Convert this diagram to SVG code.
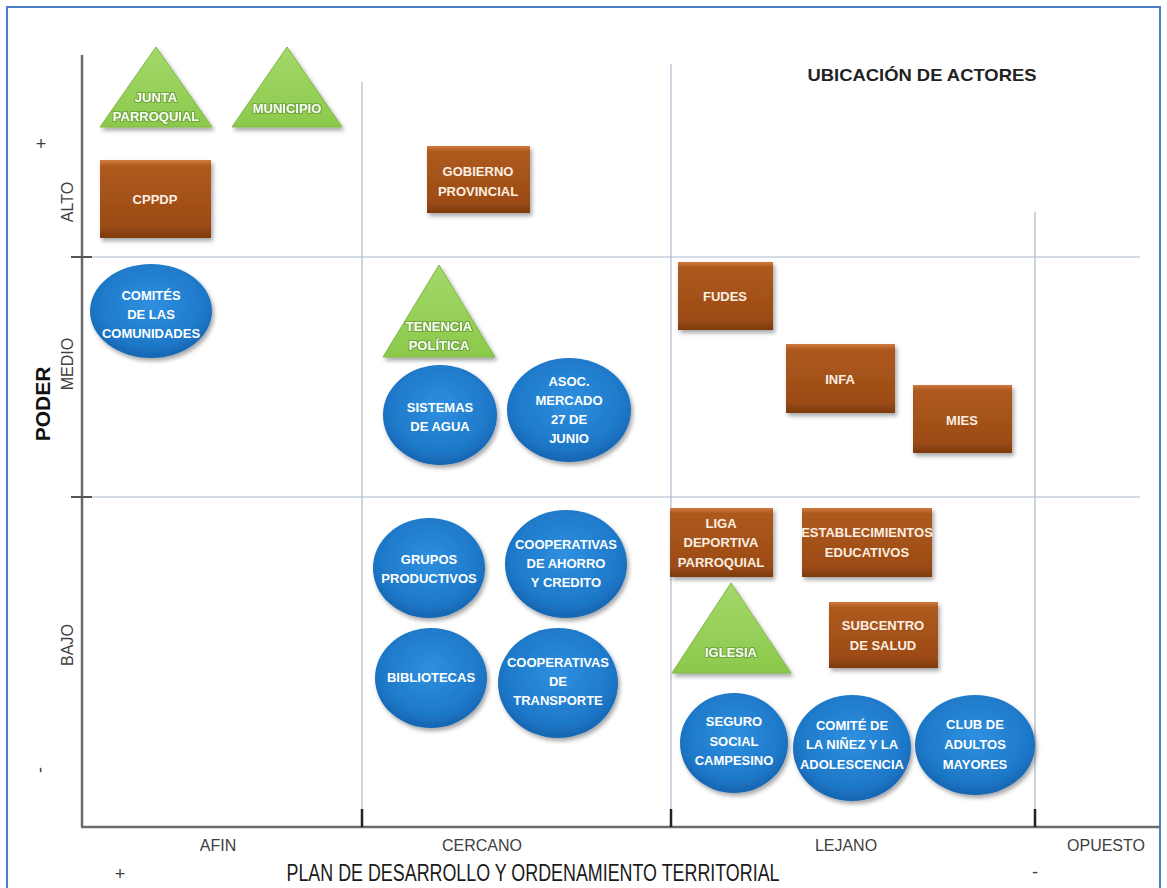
<svg xmlns="http://www.w3.org/2000/svg" width="1167" height="888" viewBox="0 0 1167 888">
<defs>
  <linearGradient id="gBrown" x1="0" y1="0" x2="0" y2="1">
    <stop offset="0" stop-color="#D07A3E"/>
    <stop offset="0.08" stop-color="#AE591F"/>
    <stop offset="0.85" stop-color="#9C4B15"/>
    <stop offset="1" stop-color="#7C3A0E"/>
  </linearGradient>
  <radialGradient id="gBlue" cx="0.5" cy="0.42" r="0.6">
    <stop offset="0" stop-color="#2F90E0"/>
    <stop offset="0.75" stop-color="#1E78C8"/>
    <stop offset="1" stop-color="#1462AC"/>
  </radialGradient>
  <linearGradient id="gGreen" x1="0" y1="0" x2="0" y2="1">
    <stop offset="0" stop-color="#A4D86A"/>
    <stop offset="1" stop-color="#8BC94B"/>
  </linearGradient>
  <filter id="sh" x="-20%" y="-20%" width="150%" height="150%">
    <feDropShadow dx="2" dy="3" stdDeviation="2" flood-color="#000" flood-opacity="0.35"/>
  </filter>
  <filter id="glowG" x="-10%" y="-30%" width="120%" height="160%">
    <feMorphology in="SourceAlpha" operator="dilate" radius="1" result="d"/>
    <feFlood flood-color="#6FA83A" result="c"/>
    <feComposite in="c" in2="d" operator="in" result="g"/>
    <feMerge><feMergeNode in="g"/><feMergeNode in="SourceGraphic"/></feMerge>
  </filter>
</defs>
<style>
  .frame{fill:#fff;stroke:#4A7EC8;stroke-width:2}
  .axis{stroke:#6B6B6B;stroke-width:2.5;fill:none}
  .grid{stroke:#A9B8CC;stroke-width:1.2;fill:none}
  .tick{stroke:#222;stroke-width:2.5}
  .rect{fill:url(#gBrown);filter:url(#sh)}
  .ell{fill:url(#gBlue);filter:url(#sh)}
  .tri{fill:url(#gGreen);stroke:#7FB844;stroke-width:1;filter:url(#sh)}
  .t{font-family:"Liberation Sans",Arial,sans-serif;font-weight:bold;font-size:13px;fill:#fff;text-anchor:middle}
  .tb{fill:#FCEFE2}
  .tg{fill:#F4FBEA;filter:url(#glowG)}
  .ax{font-family:"Liberation Sans",Arial,sans-serif;font-size:16px;fill:#404040;text-anchor:middle}
  .big{font-family:"Liberation Sans",Arial,sans-serif;font-size:23px;fill:#1a1a1a;text-anchor:middle}
  .title{font-family:"Liberation Sans",Arial,sans-serif;font-weight:bold;font-size:17px;fill:#222;text-anchor:middle}
</style>

<rect class="frame" x="7" y="7" width="1153" height="900"/>

<g id="axes">
  <line class="grid" x1="84" y1="257" x2="1140" y2="257"/>
  <line class="grid" x1="84" y1="497" x2="1140" y2="497"/>
  <line class="grid" x1="362" y1="82" x2="362" y2="826"/>
  <line class="grid" x1="671" y1="64" x2="671" y2="826"/>
  <line class="grid" x1="1035" y1="212" x2="1035" y2="826"/>
  <line class="axis" x1="82" y1="55" x2="82" y2="827"/>
  <line class="axis" x1="81" y1="827" x2="1160" y2="827"/>
  <line class="tick" x1="71" y1="257" x2="92" y2="257" style="stroke:#555;stroke-width:2"/>
  <line class="tick" x1="71" y1="497" x2="92" y2="497" style="stroke:#555;stroke-width:2"/>
  <line class="tick" x1="362" y1="809" x2="362" y2="827"/>
  <line class="tick" x1="671" y1="809" x2="671" y2="827"/>
  <line class="tick" x1="1035" y1="809" x2="1035" y2="827"/>
</g>

<g id="labels">
  <text class="title" x="922" y="81" textLength="229" lengthAdjust="spacingAndGlyphs">UBICACIÓN DE ACTORES</text>
  <text class="ax" x="218" y="851">AFIN</text>
  <text class="ax" x="482" y="851">CERCANO</text>
  <text class="ax" x="846" y="851">LEJANO</text>
  <text class="ax" x="1106" y="851">OPUESTO</text>
  <text class="big" x="533" y="881" textLength="493" lengthAdjust="spacingAndGlyphs">PLAN DE DESARROLLO Y ORDENAMIENTO TERRITORIAL</text>
  <text class="ax" x="120" y="880" style="font-size:18px">+</text>
  <text class="ax" x="1035" y="878" style="font-size:18px">-</text>
  <text class="ax" x="41" y="150" style="font-size:18px">+</text>
  <text class="ax" transform="translate(46,770) rotate(-90)" style="font-size:18px">-</text>
  <text class="ax" transform="translate(73,202) rotate(-90)">ALTO</text>
  <text class="ax" transform="translate(73,364) rotate(-90)">MEDIO</text>
  <text class="ax" transform="translate(73,645) rotate(-90)">BAJO</text>
  <text class="ax" transform="translate(50,404) rotate(-90)" style="font-size:21px;font-weight:bold;fill:#111">PODER</text>
</g>

<g id="junta-parroquial">
  <polygon class="tri" points="156,47 212,127 100,127"/>
  <text class="t tg" x="156" y="102">JUNTA</text>
  <text class="t tg" x="156" y="121">PARROQUIAL</text>
</g>
<g id="municipio">
  <polygon class="tri" points="287,47 342,127 232,127"/>
  <text class="t tg" x="287" y="113">MUNICIPIO</text>
</g>
<g id="cppdp">
  <rect class="rect" x="100" y="160" width="111" height="78"/>
  <text class="t tb" x="155" y="204">CPPDP</text>
</g>
<g id="gobierno-provincial">
  <rect class="rect" x="427" y="146" width="103" height="67"/>
  <text class="t tb" x="478" y="176">GOBIERNO</text>
  <text class="t tb" x="478" y="196">PROVINCIAL</text>
</g>
<g id="comites-comunidades">
  <ellipse class="ell" cx="151" cy="311" rx="61" ry="47"/>
  <text class="t" x="151" y="300">COMITÉS</text>
  <text class="t" x="151" y="319">DE LAS</text>
  <text class="t" x="151" y="338">COMUNIDADES</text>
</g>
<g id="tenencia-politica">
  <polygon class="tri" points="439,265 495,357 383,357"/>
  <text class="t tg" x="439" y="331">TENENCIA</text>
  <text class="t tg" x="439" y="350">POLÍTICA</text>
</g>
<g id="sistemas-agua">
  <ellipse class="ell" cx="440" cy="415" rx="57" ry="50"/>
  <text class="t" x="440" y="412">SISTEMAS</text>
  <text class="t" x="440" y="431">DE AGUA</text>
</g>
<g id="asoc-mercado">
  <ellipse class="ell" cx="569" cy="410" rx="62" ry="52"/>
  <text class="t" x="569" y="386">ASOC.</text>
  <text class="t" x="569" y="405">MERCADO</text>
  <text class="t" x="569" y="424">27 DE</text>
  <text class="t" x="569" y="443">JUNIO</text>
</g>
<g id="fudes">
  <rect class="rect" x="678" y="262" width="95" height="68"/>
  <text class="t tb" x="725" y="301">FUDES</text>
</g>
<g id="infa">
  <rect class="rect" x="786" y="344" width="109" height="69"/>
  <text class="t tb" x="840" y="384">INFA</text>
</g>
<g id="mies">
  <rect class="rect" x="913" y="385" width="99" height="68"/>
  <text class="t tb" x="962" y="425">MIES</text>
</g>
<g id="grupos-productivos">
  <ellipse class="ell" cx="429" cy="568" rx="56" ry="50"/>
  <text class="t" x="429" y="564">GRUPOS</text>
  <text class="t" x="429" y="583">PRODUCTIVOS</text>
</g>
<g id="coop-ahorro">
  <ellipse class="ell" cx="566" cy="564" rx="61" ry="54"/>
  <text class="t" x="566" y="549">COOPERATIVAS</text>
  <text class="t" x="566" y="568">DE AHORRO</text>
  <text class="t" x="566" y="587">Y CREDITO</text>
</g>
<g id="bibliotecas">
  <ellipse class="ell" cx="431" cy="678" rx="56" ry="50"/>
  <text class="t" x="431" y="682">BIBLIOTECAS</text>
</g>
<g id="coop-transporte">
  <ellipse class="ell" cx="558" cy="683" rx="60" ry="55"/>
  <text class="t" x="558" y="667">COOPERATIVAS</text>
  <text class="t" x="558" y="686">DE</text>
  <text class="t" x="558" y="705">TRANSPORTE</text>
</g>
<g id="liga-deportiva">
  <rect class="rect" x="670" y="508" width="103" height="69"/>
  <text class="t tb" x="721" y="528">LIGA</text>
  <text class="t tb" x="721" y="547">DEPORTIVA</text>
  <text class="t tb" x="721" y="567">PARROQUIAL</text>
</g>
<g id="establecimientos">
  <rect class="rect" x="802" y="508" width="130" height="69"/>
  <text class="t tb" x="867" y="537">ESTABLECIMIENTOS</text>
  <text class="t tb" x="867" y="557">EDUCATIVOS</text>
</g>
<g id="subcentro-salud">
  <rect class="rect" x="829" y="602" width="109" height="66"/>
  <text class="t tb" x="883" y="630">SUBCENTRO</text>
  <text class="t tb" x="883" y="650">DE  SALUD</text>
</g>
<g id="iglesia">
  <polygon class="tri" points="731,583 791,673 672,673"/>
  <text class="t tg" x="731" y="657">IGLESIA</text>
</g>
<g id="seguro-social">
  <ellipse class="ell" cx="734" cy="743" rx="54" ry="50"/>
  <text class="t" x="734" y="726">SEGURO</text>
  <text class="t" x="734" y="746">SOCIAL</text>
  <text class="t" x="734" y="765">CAMPESINO</text>
</g>
<g id="comite-ninez">
  <ellipse class="ell" cx="852" cy="748" rx="59" ry="53"/>
  <text class="t" x="852" y="730">COMITÉ DE</text>
  <text class="t" x="852" y="749">LA NIÑEZ Y LA</text>
  <text class="t" x="852" y="769">ADOLESCENCIA</text>
</g>
<g id="club-adultos">
  <ellipse class="ell" cx="975" cy="745" rx="60" ry="50"/>
  <text class="t" x="975" y="729">CLUB DE</text>
  <text class="t" x="975" y="749">ADULTOS</text>
  <text class="t" x="975" y="769">MAYORES</text>
</g>
</svg>
